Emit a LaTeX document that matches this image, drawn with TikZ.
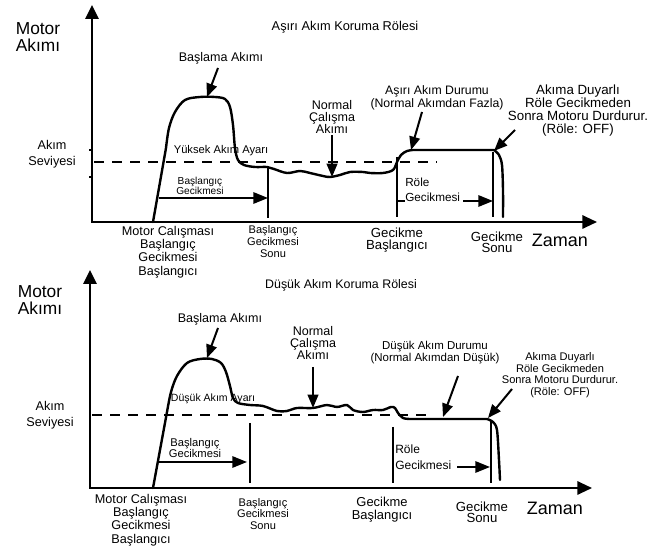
\documentclass[tikz,border=0pt]{standalone}
\usepackage{fontspec}
\setmainfont{Liberation Sans}
\usetikzlibrary{arrows.meta}
\begin{document}
\begin{tikzpicture}[x=0.75pt,y=-0.75pt,
  axes/.style={line width=1.5pt,line join=miter,{Triangle[length=10.5pt,width=10pt]}-{Triangle[length=11pt,width=10pt]}},
  crv/.style={line width=1.8pt,line join=round,line cap=round},
  lvl/.style={line width=1.5pt,dash pattern=on 7.5pt off 6pt},
  vl/.style={line width=1.5pt},
  darr/.style={line width=1.5pt,-{Triangle[length=11pt,width=8.5pt]}},
  larr/.style={line width=1.5pt,-{Triangle[length=10pt,width=8pt]}},
  lbl/.style={align=center,inner sep=0pt},
  lft/.style={anchor=west,inner sep=0pt}]
\useasboundingbox (0,0) rectangle (662,552);

% ================= TOP PANEL =================
\coordinate (yt) at (92,5); \coordinate (ot) at (92,222); \coordinate (xt) at (597,222);
\draw[axes] (yt) -- (ot) -- (xt);
\draw[line width=1pt] (89,150) -- (92,150) (89,177) -- (92,177);
\coordinate (dl1) at (94,162); \coordinate (dr1) at (437,162);
\draw[lvl] (dl1) -- (dr1);

\draw[crv] (153,222) -- plot[smooth,tension=0.55] coordinates {(166,148) (169,128) (175,112) (185,100) (200,97) (215,97) (225,99) (230,107) (233,125) (235,148) (238,160) (244,165) (255,167) (267,167) (274,169) (287,173) (300,171) (310,173) (323,176) (330,177) (340,175) (350,172) (363,172) (370,173) (383,173) (393,170) (397,162) (401,155) (407,151) (413,150)}
  -- plot[smooth,tension=0.5] coordinates {(494,150) (499,155) (502,165) (503,190) (503,217)};

\draw[vl] (268,167) -- (268,218);
\draw[vl] (397,157) -- (397,217);
\draw[vl] (493,152) -- (493,217);

\coordinate (sa1) at (159,198); \coordinate (sb1) at (268,198);
\draw[darr] (sa1) -- (sb1);
\node[lbl,font=\fontsize{7.6}{7.5}\selectfont] (bg1) at (200,186) {Başlangıç\\Gecikmesi};

\node[lft,font=\fontsize{8.8}{9}\selectfont] (rl1) at (405,182) {Röle};
\node[lft,font=\fontsize{8.8}{9}\selectfont] (rg1) at (405,197) {Gecikmesi};
\coordinate (ra1) at (397,201); \coordinate (ra2) at (405,201);
\draw[vl] (ra1) -- (ra2);
\coordinate (rb1) at (463,201); \coordinate (rb2) at (493,201);
\draw[darr] (rb1) -- (rb2);

\node[lbl,font=\fontsize{9.6}{10}\selectfont] (t1) at (345,27) {Aşırı Akım Koruma Rölesi};
\node[lbl,font=\fontsize{13}{12.5}\selectfont] (m1) at (38,37) {Motor\\Akımı};
\node[lbl,font=\fontsize{9.5}{12}\selectfont] (s1) at (52,154) {Akım\\Seviyesi};
\node[lbl,font=\fontsize{8.4}{9}\selectfont] (y1) at (221,151) {Yüksek Akım Ayarı};

\node[lbl,font=\fontsize{9.4}{10}\selectfont] (ba1) at (221,58) {Başlama Akımı};
\coordinate (ba1s) at (218,68); \coordinate (ba1t) at (207,97);
\draw[larr] (ba1s) -- (ba1t);

\node[lbl,font=\fontsize{9.4}{9}\selectfont] (n1) at (332,117) {Normal\\Çalışma\\Akımı};
\coordinate (n1s) at (332,135); \coordinate (n1t) at (332,177);
\draw[larr] (n1s) -- (n1t);

\node[lbl,font=\fontsize{9.2}{8.3}\selectfont] (d1) at (437,98) {Aşırı Akım Durumu\\(Normal Akımdan Fazla)};
\coordinate (d1s) at (422,112); \coordinate (d1t) at (411,150);
\draw[larr] (d1s) -- (d1t);

\node[lbl,font=\fontsize{10}{9.75}\selectfont] (k1) at (578,111) {Akıma Duyarlı\\Röle Gecikmeden\\Sonra Motoru Durdurur.\\(Röle: OFF)};
\coordinate (k1s) at (515,130); \coordinate (k1t) at (494,151);
\draw[larr] (k1s) -- (k1t);

\node[lbl,font=\fontsize{9.5}{9.9}\selectfont] (mc1) at (168,252) {Motor Calışması\\Başlangıç\\Gecikmesi\\Başlangıcı};
\node[lbl,font=\fontsize{8.3}{9}\selectfont] (gs1) at (273,242) {Başlangıç\\Gecikmesi\\Sonu};
\node[lbl,font=\fontsize{9.9}{9}\selectfont] (gb1) at (397,240) {Gecikme\\Başlangıcı};
\node[lbl,font=\fontsize{9.9}{8.5}\selectfont] (ge1) at (497,242) {Gecikme\\Sonu};
\node[lbl,font=\fontsize{13.5}{14}\selectfont] (z1) at (560,240) {Zaman};

% ================= BOTTOM PANEL =================
\coordinate (yb) at (90,270); \coordinate (ob) at (90,488); \coordinate (xb) at (592,488);
\draw[axes] (yb) -- (ob) -- (xb);
\coordinate (dl2) at (92,415); \coordinate (dr2) at (433,415);
\draw[lvl] (dl2) -- (dr2);

\draw[crv] (153,488) -- plot[smooth,tension=0.55] coordinates {(167,412) (171,392) (177,376) (187,363) (200,359) (212,359) (221,363) (226,372) (230,386) (233,398) (238,403) (250,405) (263,406) (277,411) (287,411) (297,408) (313,408) (327,405) (337,407) (347,405) (353,410) (363,412) (373,410) (383,410) (391,407) (395,408) (398,413) (403,418) (410,419)}
  -- plot[smooth,tension=0.5] coordinates {(487,419) (493,422) (497,430) (499,460) (500,480)};

\draw[vl] (250,423) -- (250,483);
\draw[vl] (393,427) -- (393,483);
\draw[vl] (491,420) -- (491,483);

\coordinate (sa2) at (158,462); \coordinate (sb2) at (247,462);
\draw[darr] (sa2) -- (sb2);
\node[lbl,font=\fontsize{8.4}{7.8}\selectfont] (bg2) at (195,448) {Başlangıç\\Gecikmesi};

\node[lft,font=\fontsize{9}{9}\selectfont] (rl2) at (395,449) {Röle};
\node[lft,font=\fontsize{9}{9}\selectfont] (rg2) at (395,465) {Gecikmesi};
\coordinate (rb3) at (457,467); \coordinate (rb4) at (490,467);
\draw[darr] (rb3) -- (rb4);

\node[lbl,font=\fontsize{9.3}{10}\selectfont] (t2) at (341,285) {Düşük Akım Koruma Rölesi};
\node[lbl,font=\fontsize{13}{13}\selectfont] (m2) at (40,300) {Motor\\Akımı};
\node[lbl,font=\fontsize{9.5}{12}\selectfont] (s2) at (50,415) {Akım\\Seviyesi};
\node[lbl,font=\fontsize{7.9}{8}\selectfont] (y2) at (213,399) {Düşük Akım Ayarı};

\node[lbl,font=\fontsize{9.4}{10}\selectfont] (ba2) at (220,319) {Başlama Akımı};
\coordinate (ba2s) at (218,328); \coordinate (ba2t) at (207,358);
\draw[larr] (ba2s) -- (ba2t);

\node[lbl,font=\fontsize{9.4}{9}\selectfont] (n2) at (313,343) {Normal\\Çalışma\\Akımı};
\coordinate (n2s) at (313,367); \coordinate (n2t) at (313,408);
\draw[larr] (n2s) -- (n2t);

\node[lbl,font=\fontsize{8.6}{7.8}\selectfont] (d2) at (435,353) {Düşük Akım Durumu\\(Normal Akımdan Düşük)};
\coordinate (d2s) at (458,376); \coordinate (d2t) at (443,417);
\draw[larr] (d2s) -- (d2t);

\node[lbl,font=\fontsize{8.3}{8.6}\selectfont] (k2) at (560,375) {Akıma Duyarlı\\Röle Gecikmeden\\Sonra Motoru Durdurur.\\(Röle: OFF)};
\coordinate (k2s) at (512,389); \coordinate (k2t) at (488,418);
\draw[larr] (k2s) -- (k2t);

\node[lbl,font=\fontsize{9.5}{9.9}\selectfont] (mc2) at (141,520) {Motor Calışması\\Başlangıç\\Gecikmesi\\Başlangıcı};
\node[lbl,font=\fontsize{8.3}{8.3}\selectfont] (gs2) at (263,514) {Başlangıç\\Gecikmesi\\Sonu};
\node[lbl,font=\fontsize{9.7}{9.5}\selectfont] (gb2) at (382,510) {Gecikme\\Başlangıcı};
\node[lbl,font=\fontsize{9.9}{8.5}\selectfont] (ge2) at (482,512) {Gecikme\\Sonu};
\node[lbl,font=\fontsize{13.5}{14}\selectfont] (z2) at (555,508) {Zaman};
\end{tikzpicture}
\end{document}
